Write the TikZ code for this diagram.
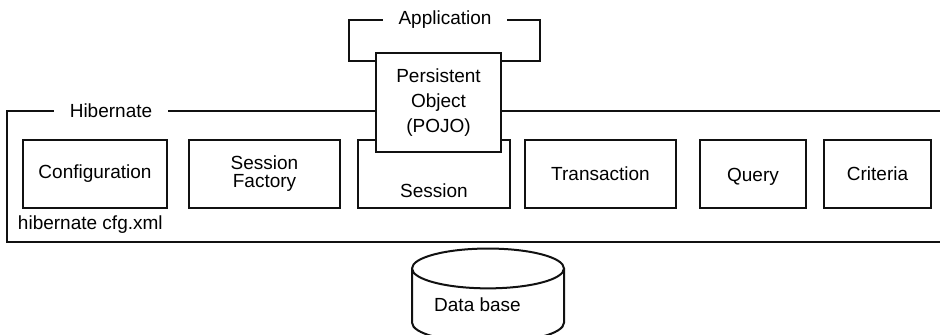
\documentclass[tikz,border=0pt]{standalone}
\usepackage{fontspec}
\setmainfont{Liberation Sans}
\usepackage{tikz}
\usetikzlibrary{shapes.geometric}
\definecolor{frameBlack}{HTML}{111111}

\begin{document}
\begin{tikzpicture}[x=0.5pt, y=-0.5pt, line width=1pt, draw=frameBlack,
    font=\fontsize{9.5}{12}\selectfont,
    part/.style={draw, fill=white, align=center, inner sep=0pt, minimum height=34pt},
    frametitle/.style={inner xsep=8pt, inner ysep=0pt, outer sep=0pt}]
    \useasboundingbox (0,0) rectangle (940,335);

    % hibernate components
    \node[part, minimum width=72pt] (config) at (95,174) {Configuration};
    \node[part, minimum width=75.5pt] (factory) at (264.5,174) {Session\\[-3pt]Factory};
    \node[part, minimum width=76pt] (session) at (434,174) {\raisebox{-8.5pt}[\height][\depth]{Session}};
    \node[part, minimum width=75.5pt] (trans) at (600.5,174) {Transaction};
    \node[part, minimum width=53pt] (query) at (753,174) {\raisebox{-1.5pt}[\height][\depth]{Query}};
    \node[part, minimum width=53.5pt] (criteria) at (877.5,174) {Criteria};

    \node[part, minimum width=62.5pt, minimum height=49.5pt] (pojo) at (438.5,102.5) {Persistent\\[0.5pt]Object\\[0.5pt](POJO)};

    % Hibernate frame
    \node[frametitle] (hib) at (111,111) {Hibernate};
    \draw (hib.west) -- (7,111) -- (7,242) -- (941,242);
    \draw (hib.east) -- (pojo.west |- hib);
    \draw (pojo.east |- hib) -- (941,111);
    \node[anchor=base west, inner sep=0pt] (cfgxml) at (17,230) {hibernate cfg.xml};

    % Application bracket
    \node[frametitle] (app) at (445,20) {Application};
    \coordinate (appfoot) at (0,61);
    \draw (app.west) -- (349,20) -- (349,61) -- (pojo.west |- appfoot);
    \draw (app.east) -- (540,20) -- (540,61) -- (pojo.east |- appfoot);

    \node[cylinder, draw, shape border rotate=90, shape aspect=0.37, minimum width=76pt,
      minimum height=47pt, inner sep=0pt] (db) at (488,306)
      {\raisebox{0.5pt}[\height][\depth]{Data base}\hspace*{10.5pt}};
\end{tikzpicture}
\end{document}
